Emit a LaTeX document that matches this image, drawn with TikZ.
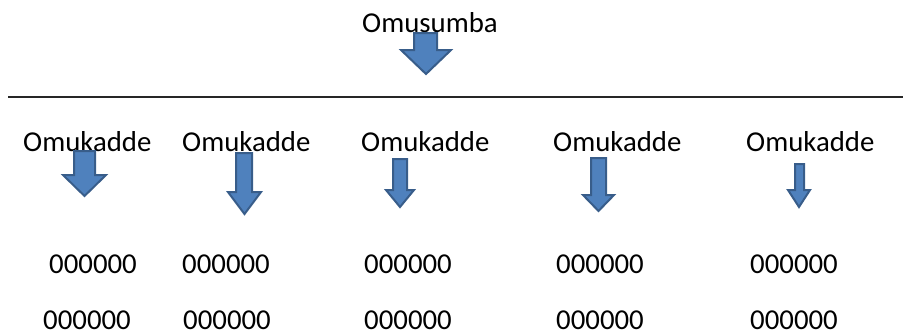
\documentclass[tikz,border=0pt]{standalone}
\usepackage{fontspec}
\setmainfont{Carlito}
\definecolor{arrowfill}{HTML}{4F81BD}
\definecolor{arrowline}{HTML}{385D8A}
\newcommand{\blkarrow}[7]{% shaft left, shaft right, top, head left, head right, head top, tip
  \filldraw[blockarrow] (#1,#3) -- (#2,#3) -- (#2,#6) -- (#5,#6)
    -- ({(#4+#5)/2},#7) -- (#4,#6) -- (#1,#6) -- cycle;}
\begin{document}
\begin{tikzpicture}[x=1pt,y=-1pt,
  lbl/.style={anchor=base west,inner sep=0pt,font=\fontsize{28.8}{34}\selectfont},
  blockarrow/.style={fill=arrowfill,draw=arrowline,line width=2pt,line join=miter}]
\useasboundingbox (0,0) rectangle (903,335);
% top label
\node[lbl] (top) at (362,32) {Omusumba};
% separator line
\coordinate (ls) at (8,97);
\coordinate (le) at (903,97);
\draw[line width=1.4pt,black!85] (ls) -- (le);
% Omukadde labels
\node[lbl] (k1) at (23,151) {Omukadde};
\node[lbl] (k2) at (182,151) {Omukadde};
\node[lbl] (k3) at (361,151) {Omukadde};
\node[lbl] (k4) at (553,151) {Omukadde};
\node[lbl] (k5) at (746,151) {Omukadde};
% rows of numbers
\node[lbl] (a1) at (49,273) {000000};
\node[lbl] (a2) at (182,273) {000000};
\node[lbl] (a3) at (364,273) {000000};
\node[lbl] (a4) at (556,273) {000000};
\node[lbl] (a5) at (750,273) {000000};
\node[lbl] (b1) at (43,329) {000000};
\node[lbl] (b2) at (183,329) {000000};
\node[lbl] (b3) at (364,329) {000000};
\node[lbl] (b4) at (556,329) {000000};
\node[lbl] (b5) at (750,329) {000000};
% block arrows
\blkarrow{414}{437}{33}{401}{451}{50}{74}
\blkarrow{74}{95}{151}{63}{106}{175}{196}
\blkarrow{236}{252}{153}{228}{261}{192}{214}
\blkarrow{393}{407}{159}{386}{414}{190}{207}
\blkarrow{591}{606}{158}{583}{614}{195}{211}
\blkarrow{795}{804}{164}{788}{810}{190}{207}
\end{tikzpicture}
\end{document}
